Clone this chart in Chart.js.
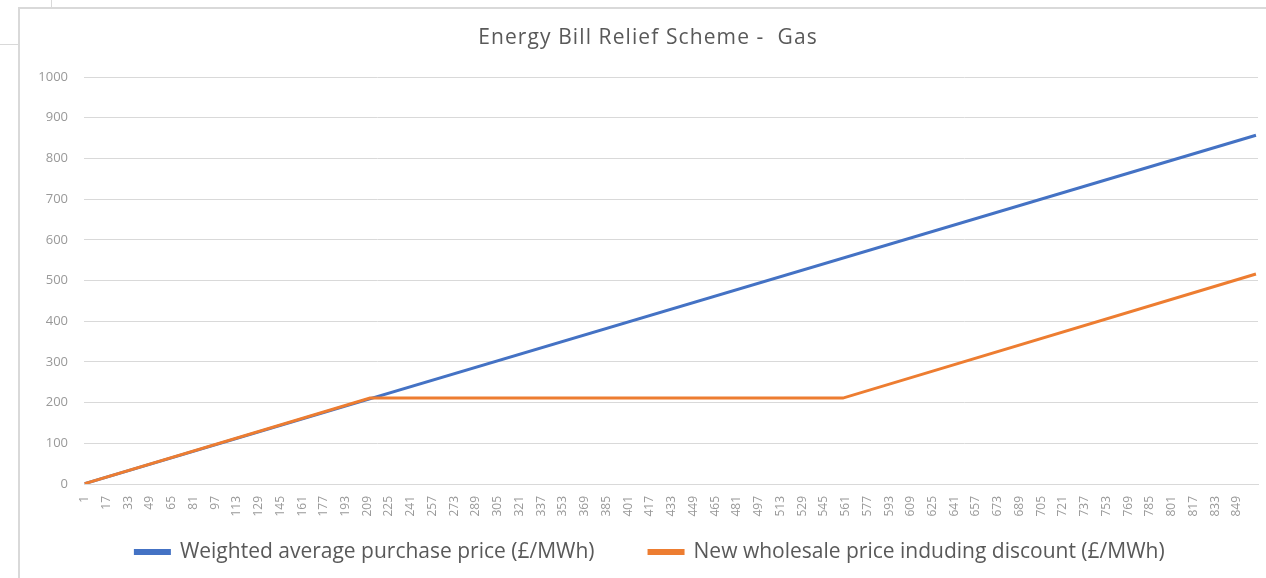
<!DOCTYPE html>
<html>
<head>
<meta charset="utf-8">
<script src="https://cdn.jsdelivr.net/npm/chart.js@4.4.0/dist/chart.umd.min.js"></script>
<style>
  html, body { margin: 0; padding: 0; background: #fff; width: 1266px; height: 578px; overflow: hidden; }
  #frame { position: absolute; left: 18px; top: 7px; width: 1248px; height: 571px; border-left: 2px solid #d9d9d9; border-top: 2px solid #d9d9d9; box-sizing: border-box; }
  #l1 { position: absolute; left: 51px; top: 0; width: 1px; height: 7px; background: #d9d9d9; }
  #l2 { position: absolute; left: 0; top: 44px; width: 18px; height: 1px; background: #d9d9d9; }
  #wrap { position: absolute; left: 20px; top: 9px; width: 1246px; height: 569px; }
</style>
</head>
<body>
<div id="l1"></div><div id="l2"></div>
<div id="frame"></div>
<div id="wrap"><canvas id="c"></canvas></div>
<script>
const chartTitle = 'Energy Bill Relief Scheme -  Gas';
const seriesNames = ['Weighted average purchase price (£/MWh)', 'New wholesale price induding discount (£/MWh)'];
// x tick labels (category numbers shown on axis)
const xTickLabels = [1,17,33,49,65,81,97,113,129,145,161,177,193,209,225,241,257,273,289,305,321,337,353,369,385,401,417,433,449,465,481,497,513,529,545,561,577,593,609,625,641,657,673,689,705,721,737,753,769,785,801,817,833,849];
// breakpoints: [x, y]
const weightedX = [1, 863];
const weightedY = [1, 857];
const wholesaleX = [1, 211, 559, 863];
const wholesaleY = [1, 211, 211, 516];
const yTicks = [0,100,200,300,400,500,600,700,800,900,1000];

const toPts = (xs, ys) => xs.map((x, i) => ({x: x, y: ys[i]}));

const boxFix = {
  id: 'boxFix',
  beforeUpdate(chart) {
    const lg = chart.legend;
    if (lg && !lg._fixed) {
      lg._fixed = true;
      const origFit = lg.fit.bind(lg);
      lg.fit = function () { origFit(); this.height = 43; };
    }
    const t = chart.titleBlock;
    if (t && !t._fixed) {
      t._fixed = true;
      const orig = t.draw.bind(t);
      t.draw = function (a) {
        const ctx = this.ctx;
        ctx.save();
        ctx.letterSpacing = '1.1px';
        orig(a);
        ctx.restore();
      };
    }
  },
  afterLayout(chart) {
    const lg = chart.legend;
    if (lg) {
      lg.top = 478; lg.bottom = chart.height; lg.height = lg.bottom - lg.top;
      lg.left += 11; lg.right += 11;
    }
    const t = chart.titleBlock;
    if (t) { t.left += 9; t.right += 9; }
  }
};

new Chart(document.getElementById('c'), {
  type: 'line',
  data: {
    datasets: [
      { label: seriesNames[0], data: toPts(weightedX, weightedY), borderColor: '#4472C4', backgroundColor: '#4472C4', borderWidth: 3, pointRadius: 0, tension: 0, order: 1 },
      { label: seriesNames[1], data: toPts(wholesaleX, wholesaleY), borderColor: '#ED7D31', backgroundColor: '#ED7D31', borderWidth: 3, pointRadius: 0, tension: 0, order: 0 }
    ]
  },
  plugins: [boxFix],
  options: {
    responsive: true,
    maintainAspectRatio: false,
    animation: false,
    layout: { padding: { left: 0, right: 8, top: 0, bottom: 0 } },
    plugins: {
      title: { display: true, text: chartTitle, color: '#595959', font: { family: 'Open Sans', size: 21, weight: 'normal' }, padding: { top: 16.4, bottom: 26.4 } },
      legend: {
        position: 'bottom',
        labels: { color: '#595959', font: { family: 'Open Sans', size: 21 }, boxWidth: 34, boxHeight: 3, padding: 54.5, sort: (a, b) => a.datasetIndex - b.datasetIndex }
      },
      tooltip: { enabled: false }
    },
    scales: {
      x: {
        type: 'linear',
        min: 0.5,
        max: 864.5,
        afterBuildTicks: (s) => { s.ticks = xTickLabels.map(v => ({ value: v })); },
        afterFit: (s) => { s.height = 51; },
        grid: { display: false },
        border: { display: true, color: '#d9d9d9' },
        ticks: { autoSkip: false, minRotation: 90, maxRotation: 90, color: '#999999', font: { family: 'Open Sans', size: 12 }, padding: 4, callback: (v) => String(v) }
      },
      y: {
        min: 0,
        max: 1000,
        afterBuildTicks: (s) => { s.ticks = yTicks.map(v => ({ value: v })); },
        afterFit: (s) => { s.width = 64; },
        grid: { color: '#d9d9d9', drawTicks: false, lineWidth: 1 },
        border: { display: false },
        ticks: { color: '#999999', font: { family: 'Open Sans', size: 13 }, padding: 16, callback: (v) => String(v) }
      }
    }
  }
});
</script>
</body>
</html>
